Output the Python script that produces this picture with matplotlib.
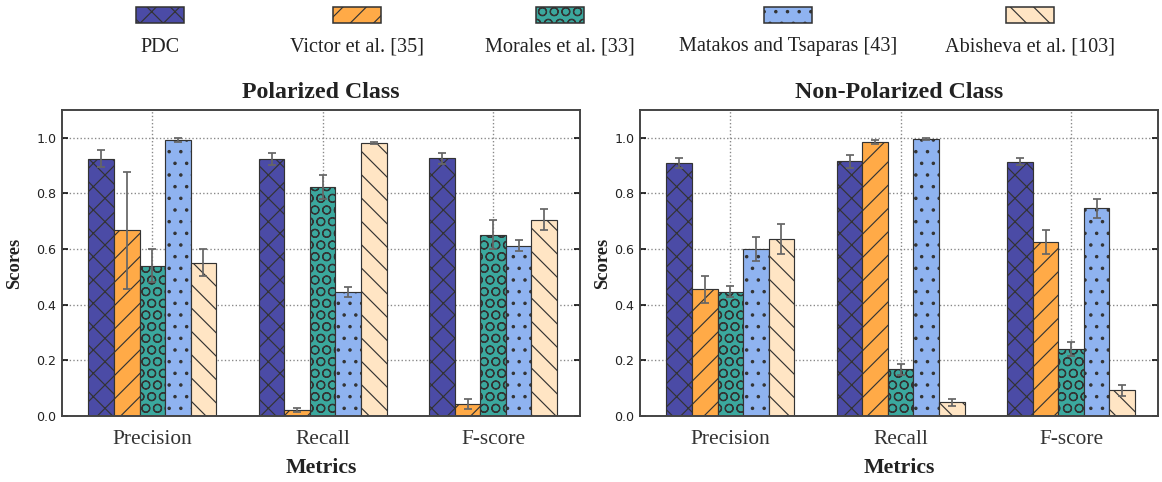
import numpy as np
import matplotlib
matplotlib.use("Agg")
import matplotlib.pyplot as plt
from matplotlib.patches import Rectangle

# categories and methods
metrics = ['Precision', 'Recall', 'F-score']
methods = ['PDC', 'Victor et al. [35]', 'Morales et al. [33]',
           'Matakos and Tsaparas [43]', 'Abisheva et al. [103]']

# polarized class scores (one list per method, over metrics)
pol_pdc = [0.925, 0.925, 0.926]
pol_victor = [0.667, 0.022, 0.042]
pol_morales = [0.541, 0.822, 0.652]
pol_matakos = [0.993, 0.444, 0.612]
pol_abisheva = [0.551, 0.980, 0.706]

pol_pdc_err = [0.03, 0.022, 0.02]
pol_victor_err = [0.21, 0.008, 0.018]
pol_morales_err = [0.06, 0.043, 0.053]
pol_matakos_err = [0.008, 0.018, 0.02]
pol_abisheva_err = [0.048, 0.004, 0.038]

# non-polarized class scores
non_pdc = [0.911, 0.915, 0.914]
non_victor = [0.456, 0.985, 0.625]
non_morales = [0.446, 0.168, 0.242]
non_matakos = [0.600, 0.996, 0.746]
non_abisheva = [0.636, 0.049, 0.092]

non_pdc_err = [0.018, 0.025, 0.012]
non_victor_err = [0.048, 0.006, 0.042]
non_morales_err = [0.02, 0.02, 0.025]
non_matakos_err = [0.043, 0.003, 0.035]
non_abisheva_err = [0.054, 0.012, 0.02]

colors = ['#4b4ba6', '#ffaa47', '#3ba89e', '#8fb3f0', '#ffe5c4']
hatches = ['xx', '//', 'OO', '..', '\\\\']

DPI = 140
plt.rcParams['hatch.linewidth'] = 0.6
plt.rcParams['hatch.color'] = '#222222'
serif = 'Liberation Serif'
txt_color = '#222222'

fig = plt.figure(figsize=(1162 / DPI, 482 / DPI), dpi=DPI)
W, H = 1162.0, 482.0

def add_panel(left_px, title, means, errs, label_x):
    ax = fig.add_axes([left_px / W, (H - 416) / H, 518 / W, 306 / H])
    x = np.arange(len(metrics))
    w = 0.15
    for k in range(len(methods)):
        ax.bar(x + (k - 2) * w, means[k], w, color=colors[k], hatch=hatches[k],
               edgecolor='#333333', linewidth=0.6, zorder=2)
        ax.errorbar(x + (k - 2) * w, means[k], yerr=errs[k], fmt='none',
                    ecolor='#666666', elinewidth=0.9, capsize=2, capthick=0.9, zorder=3)
    ax.set_xlim(-0.53, 2.51)
    ax.set_ylim(0, 1.1)
    ax.set_yticks([0.0, 0.2, 0.4, 0.6, 0.8, 1.0])
    ax.set_xticks(x)
    ax.set_xticklabels(metrics, family=serif, fontsize=11, color='#333333')
    for lab in ax.get_yticklabels():
        lab.set_fontsize(6.5)
        lab.set_color('#222222')
    ax.tick_params(axis='x', direction='in', pad=7, length=3, top=False)
    ax.tick_params(axis='y', direction='in', length=3, right=True, pad=3)
    ax.grid(True, linestyle=':', color='#888888', linewidth=0.7, zorder=0)
    ax.set_axisbelow(True)
    for s in ax.spines.values():
        s.set_color('#444444')
        s.set_linewidth(1.0)
    ax.set_title(title, family=serif, fontweight='bold', fontsize=12.3,
                 color=txt_color, pad=6)
    ax.set_xlabel('Metrics', family=serif, fontweight='bold', fontsize=11.2,
                  color=txt_color)
    ax.xaxis.set_label_coords(0.5, -0.137)
    ax.set_ylabel('Scores', family=serif, fontweight='bold', fontsize=9.5,
                  color=txt_color)
    ax.yaxis.set_label_coords(label_x, 0.5)
    return ax

pol_means = [pol_pdc, pol_victor, pol_morales, pol_matakos, pol_abisheva]
pol_errs = [pol_pdc_err, pol_victor_err, pol_morales_err, pol_matakos_err, pol_abisheva_err]
non_means = [non_pdc, non_victor, non_morales, non_matakos, non_abisheva]
non_errs = [non_pdc_err, non_victor_err, non_morales_err, non_matakos_err, non_abisheva_err]

add_panel(62, 'Polarized Class', pol_means, pol_errs, -0.075)
add_panel(640, 'Non-Polarized Class', non_means, non_errs, -0.056)

# legend: handle above label, one row
leg_x = [160, 357, 560, 788, 1030]
for k in range(len(methods)):
    cx = leg_x[k]
    r = Rectangle(((cx - 24) / W, (H - 23) / H), 48 / W, 16 / H,
                  transform=fig.transFigure, facecolor=colors[k],
                  hatch=hatches[k], edgecolor='#333333', linewidth=0.8)
    fig.add_artist(r)
    fig.text(cx / W, (H - 47) / H, methods[k], family=serif, fontsize=10.4,
             color=txt_color, ha='center', va='center')

fig.savefig('out.png', dpi=DPI)
